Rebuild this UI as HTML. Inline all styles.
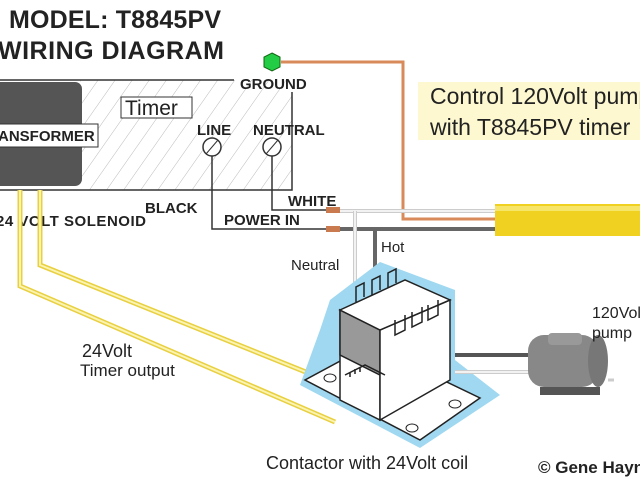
<!DOCTYPE html>
<html><head><style>body{margin:0;background:#fff}svg{display:block}</style></head><body>
<svg width="640" height="480" viewBox="0 0 640 480" xmlns="http://www.w3.org/2000/svg" font-family="Liberation Sans, sans-serif">
<defs>
<pattern id="h" width="14" height="14" patternUnits="userSpaceOnUse" patternTransform="rotate(35)"><line x1="0" y1="0" x2="0" y2="14" stroke="#bbb" stroke-width="1"/></pattern>
</defs>
<rect x="0" y="0" width="640" height="480" fill="#fff"/>
<text x="9" y="28" font-size="25" font-weight="bold" fill="#222" textLength="212">MODEL: T8845PV</text>
<text x="-2" y="59" font-size="25" font-weight="bold" fill="#222" textLength="226">WIRING DIAGRAM</text>
<rect x="80" y="80" width="212" height="110" fill="url(#h)"/>
<polyline points="0,80 234,80" stroke="#333" stroke-width="1.5" fill="none"/>
<polyline points="292,92 292,190 0,190" stroke="#333" stroke-width="1.5" fill="none"/>
<text x="240" y="89" font-size="15" font-weight="bold" fill="#222">GROUND</text>
<rect x="-8" y="82" width="90" height="104" rx="7" fill="#555"/>
<rect x="-4" y="124" width="102" height="23" fill="#fff" stroke="#333"/>
<text x="-2" y="141" font-size="15" font-weight="bold" fill="#222">ANSFORMER</text>
<rect x="121" y="97" width="71" height="21" fill="#fff" stroke="#333"/>
<text x="125" y="115" font-size="21" fill="#222">Timer</text>
<text x="197" y="135" font-size="15" font-weight="bold" fill="#222">LINE</text>
<text x="253" y="135" font-size="15" font-weight="bold" fill="#222">NEUTRAL</text>
<circle cx="212" cy="147" r="9" fill="#fff" stroke="#333" stroke-width="1.5"/><line x1="206" y1="154" x2="218" y2="140" stroke="#333"/>
<circle cx="272" cy="147" r="9" fill="#fff" stroke="#333" stroke-width="1.5"/><line x1="266" y1="154" x2="278" y2="140" stroke="#333"/>
<polyline points="212,156 212,229 326,229" stroke="#333" stroke-width="1.5" fill="none"/>
<polyline points="272,156 272,210 326,210" stroke="#333" stroke-width="1.5" fill="none"/>
<text x="288" y="206" font-size="15" font-weight="bold" fill="#222">WHITE</text>
<text x="224" y="225" font-size="15" font-weight="bold" fill="#222">POWER IN</text>
<text x="145" y="213" font-size="15" font-weight="bold" fill="#222">BLACK</text>
<text x="-4" y="226" font-size="15" font-weight="bold" fill="#222" textLength="150">24 VOLT SOLENOID</text>
<polygon points="272,53 280,57 280,67 272,71 264,67 264,57" fill="#2c4" stroke="#161"/>
<polyline points="281,62 403,62 403,219 496,219" stroke="#d98a5a" stroke-width="3" fill="none"/>
<polyline points="340,211 496,211" stroke="#ccc" stroke-width="4" fill="none"/>
<polyline points="340,211 496,211" stroke="#fff" stroke-width="1.5" fill="none"/>
<polyline points="340,229 496,229" stroke="#666" stroke-width="4" fill="none"/>
<polyline points="355,211 355,295" stroke="#ccc" stroke-width="4" fill="none"/>
<polyline points="355,211 355,295" stroke="#fff" stroke-width="1.5" fill="none"/>
<polyline points="375,229 375,285" stroke="#666" stroke-width="4" fill="none"/>
<rect x="326" y="207" width="14" height="6" fill="#c97b4f"/>
<rect x="326" y="226" width="14" height="6" fill="#c97b4f"/>
<rect x="495" y="204" width="150" height="32" fill="#f0d020"/>
<rect x="495" y="206" width="150" height="5" fill="#f7e56a"/>
<rect x="418" y="82" width="222" height="58" fill="#fdf8d0"/>
<text x="430" y="104" font-size="23" fill="#222">Control 120Volt pump</text>
<text x="430" y="135" font-size="23" fill="#222">with T8845PV timer</text>
<text x="291" y="270" font-size="15" fill="#222">Neutral</text>
<text x="381" y="252" font-size="15" fill="#222">Hot</text>
<polyline points="20,190 20,286 335,422" stroke="#e8d040" stroke-width="5" fill="none"/>
<polyline points="20,190 20,286 335,422" stroke="#fbf3b0" stroke-width="2" fill="none"/>
<polyline points="40,190 40,265 333,383" stroke="#e8d040" stroke-width="5" fill="none"/>
<polyline points="40,190 40,265 333,383" stroke="#fbf3b0" stroke-width="2" fill="none"/>
<text x="82" y="357" font-size="18" fill="#222">24Volt</text>
<text x="80" y="376" font-size="17" fill="#222">Timer output</text>
<polygon points="380,262 455,290 455,360 500,395 420,448 300,385 320,330 330,300" fill="#9fd8f0"/>
<polygon points="305,380 420,440 480,398 370,345" fill="#fff" stroke="#222" stroke-width="1.5"/>
<polygon points="340,310 380,330 380,420 340,400" fill="#fff" stroke="#222" stroke-width="1.5"/>
<polygon points="340,310 380,330 380,375 340,355" fill="#999" stroke="#222" stroke-width="1.5"/>
<polygon points="380,330 450,300 450,380 380,420" fill="#fff" stroke="#222" stroke-width="1.5"/>
<polygon points="340,310 405,280 450,300 380,330" fill="#fff" stroke="#222" stroke-width="1.5"/>
<path d="M356,302 v-15 l8,-4 v14 M372,295 v-15 l8,-4 v14 M388,288 v-15 l8,-4 v14 M395,320 v15 l10,-5 v-15 M412,312 v15 l10,-5 v-15 M428,305 v15 l10,-5 v-15" stroke="#222" stroke-width="1.5" fill="none"/>
<path d="M345,375 l20,-10 20,10 M350,372 v5 M355,369 v5 M360,367 v5" stroke="#222" stroke-width="1.5" fill="none"/>
<ellipse cx="330" cy="378" rx="6" ry="4" fill="none" stroke="#222"/>
<ellipse cx="412" cy="428" rx="6" ry="4" fill="none" stroke="#222"/>
<ellipse cx="455" cy="404" rx="6" ry="4" fill="none" stroke="#222"/>
<line x1="455" y1="355" x2="535" y2="355" stroke="#555" stroke-width="4"/>
<line x1="455" y1="372" x2="535" y2="372" stroke="#ccc" stroke-width="4"/>
<line x1="455" y1="372" x2="535" y2="372" stroke="#fff" stroke-width="1.5"/>
<rect x="528" y="335" width="70" height="52" rx="16" fill="#888"/>
<ellipse cx="598" cy="361" rx="10" ry="26" fill="#777"/>
<rect x="548" y="333" width="34" height="12" rx="4" fill="#999"/>
<rect x="540" y="387" width="60" height="8" fill="#555"/>
<line x1="608" y1="380" x2="614" y2="380" stroke="#ccc" stroke-width="3"/>
<text x="592" y="318" font-size="16" fill="#222">120Volt</text>
<text x="592" y="338" font-size="16" fill="#222">pump</text>
<text x="266" y="469" font-size="18" fill="#222">Contactor with 24Volt coil</text>
<text x="538" y="473" font-size="17" font-weight="bold" fill="#222">© Gene Haynes</text>
</svg>
</body></html>
